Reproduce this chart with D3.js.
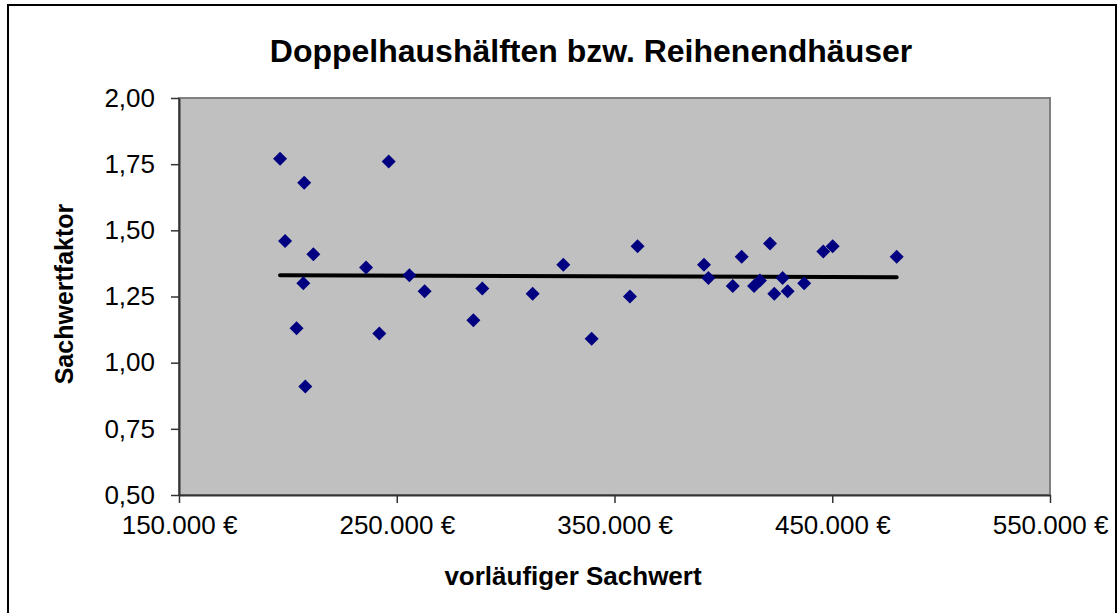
<!DOCTYPE html>
<html>
<head>
<meta charset="utf-8">
<script src="https://cdn.jsdelivr.net/npm/d3@7/dist/d3.min.js"></script>
<style>
  html, body { margin: 0; padding: 0; background: #fff; }
  svg { display: block; font-family: "Liberation Sans", Arial, sans-serif; }
</style>
</head>
<body>
<svg id="chart" width="1120" height="613"></svg>
<script>
// Vorläufiger Sachwert (EUR) und Sachwertfaktor je Kauffall
const sachwert = [
  196400, 207500, 246300, 198700, 211700, 235900, 207100, 255800, 262800,
  204000, 242000, 208000, 289300, 285200, 312400, 326500, 339500, 360600,
  357100, 391100, 393100, 404300, 408400, 421400, 414100, 416800, 423400,
  427200, 429500, 437100, 445900, 450200, 479600
];
const faktor = [
  1.77, 1.68, 1.76, 1.46, 1.41, 1.36, 1.30, 1.33, 1.27,
  1.13, 1.11, 0.91, 1.28, 1.16, 1.26, 1.37, 1.09, 1.44,
  1.25, 1.37, 1.32, 1.29, 1.40, 1.45, 1.29, 1.31, 1.26,
  1.32, 1.27, 1.30, 1.42, 1.44, 1.40
];
// Trendlinie (linear)
const trendX = [196400, 479600];
const trendY = [1.330, 1.323];

const xTicks = [150000, 250000, 350000, 450000, 550000];
const yTicks = [0.50, 0.75, 1.00, 1.25, 1.50, 1.75, 2.00];

const titleText = "Doppelhaushälften bzw. Reihenendhäuser";
const xTitle = "vorläufiger Sachwert";
const yTitle = "Sachwertfaktor";

const svg = d3.select("#chart");
const plot = { left: 179, right: 1050, top: 98, bottom: 495 };

const x = d3.scaleLinear().domain([150000, 550000]).range([plot.left, plot.right]);
const y = d3.scaleLinear().domain([0.5, 2.0]).range([plot.bottom, plot.top]);

const fmtX = v => d3.format(",.0f")(v).replace(/,/g, ".") + " €";
const fmtY = v => d3.format(".2f")(v).replace(".", ",");

// outer chart frame
svg.append("rect")
  .attr("x", 8).attr("y", 5).attr("width", 1108).attr("height", 640)
  .attr("fill", "#fff").attr("stroke", "#000").attr("stroke-width", 2);

// plot area
svg.append("rect")
  .attr("x", plot.left).attr("y", plot.top)
  .attr("width", plot.right - plot.left).attr("height", plot.bottom - plot.top)
  .attr("fill", "#c0c0c0").attr("stroke", "#808080").attr("stroke-width", 2);

// title
svg.append("text")
  .attr("x", 591).attr("y", 62)
  .attr("text-anchor", "middle")
  .attr("font-size", 32).attr("font-weight", "bold")
  .attr("fill", "#000")
  .text(titleText);

// axes
const xAxis = d3.axisBottom(x).tickValues(xTicks).tickFormat(fmtX)
  .tickSizeInner(8).tickSizeOuter(0).tickPadding(13);
const gx = svg.append("g").attr("transform", `translate(0,${plot.bottom})`).call(xAxis);

const yAxis = d3.axisLeft(y).tickValues(yTicks).tickFormat(fmtY)
  .tickSizeInner(8).tickSizeOuter(0).tickPadding(16);
const gy = svg.append("g").attr("transform", `translate(${plot.left},0)`).call(yAxis);

[gx, gy].forEach(g => {
  g.select(".domain").attr("stroke", "#333").attr("stroke-width", 2);
  g.selectAll(".tick line").attr("stroke", "#333").attr("stroke-width", 1.5);
  g.selectAll(".tick text")
    .attr("font-family", "'Liberation Sans', Arial, sans-serif")
    .attr("font-size", 26).attr("fill", "#000");
});

// axis titles
svg.append("text")
  .attr("x", 573).attr("y", 585)
  .attr("text-anchor", "middle")
  .attr("font-size", 26).attr("font-weight", "bold")
  .text(xTitle);

svg.append("text")
  .attr("transform", `translate(73,294) rotate(-90)`)
  .attr("text-anchor", "middle")
  .attr("font-size", 25).attr("font-weight", "bold")
  .text(yTitle);

// trend line
const pts = d3.zip(sachwert, faktor);
const trend = d3.zip(trendX, trendY);
svg.append("path")
  .datum(trend)
  .attr("d", d3.line().x(d => x(d[0])).y(d => y(d[1])))
  .attr("fill", "none").attr("stroke", "#000").attr("stroke-width", 4)
  .attr("stroke-linecap", "round");

// data points as diamonds
const diamond = d3.symbol().type(d3.symbolSquare).size(98);
svg.append("g")
  .selectAll("path")
  .data(pts)
  .join("path")
  .attr("d", diamond)
  .attr("transform", d => `translate(${x(d[0])},${y(d[1])}) rotate(45)`)
  .attr("fill", "#000080");
</script>
</body>
</html>
